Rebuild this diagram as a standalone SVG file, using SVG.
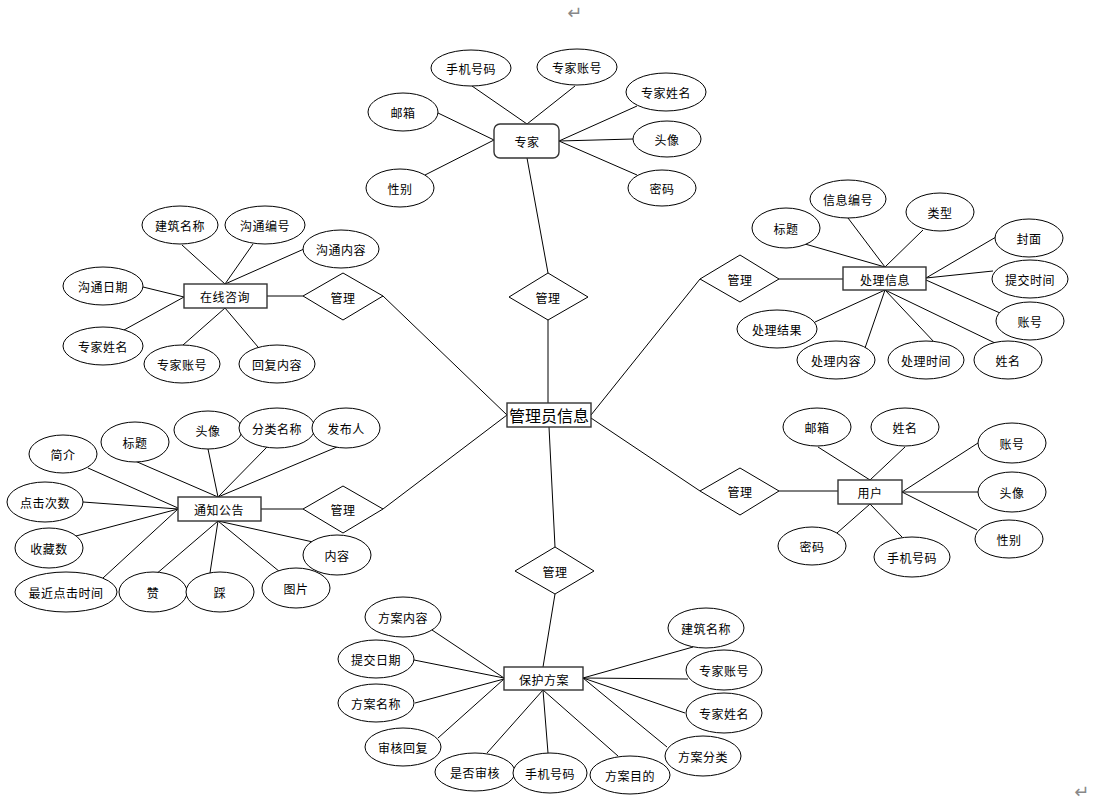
<svg xmlns="http://www.w3.org/2000/svg" width="1093" height="811" viewBox="0 0 1093 811">
<style>
text{font-family:"Noto Sans CJK SC","Liberation Sans",sans-serif;font-size:12px;fill:#000;text-anchor:middle;dominant-baseline:central;letter-spacing:0.5px}
ellipse,.ent,polygon{fill:#fff;stroke:#000;stroke-width:1}
.ent{stroke:#333;stroke-width:1.4}
.bg{fill:#fff;stroke:none}
#conn line{stroke:#000;stroke-width:1}
.big{font-size:16px;letter-spacing:0}
.mark{fill:#888;font-family:"DejaVu Sans",sans-serif;font-size:18px}
</style>
<rect class="bg" width="1093" height="811"/>
<g id="conn">
<line x1="548" y1="320" x2="548" y2="403"/>
<line x1="548" y1="273" x2="527" y2="158"/>
<line x1="383" y1="296" x2="507" y2="415"/>
<line x1="267" y1="296" x2="303" y2="296"/>
<line x1="383" y1="509" x2="507" y2="415"/>
<line x1="261" y1="509" x2="303" y2="509"/>
<line x1="700" y1="279" x2="591" y2="415"/>
<line x1="779" y1="279" x2="843" y2="279"/>
<line x1="700" y1="491" x2="591" y2="418"/>
<line x1="779" y1="491" x2="838" y2="491"/>
<line x1="549" y1="427" x2="555" y2="547"/>
<line x1="555" y1="594" x2="543" y2="667"/>
<line x1="472" y1="86" x2="527" y2="124"/>
<line x1="575" y1="86" x2="527" y2="124"/>
<line x1="637" y1="106" x2="559" y2="141"/>
<line x1="633" y1="139" x2="559" y2="141"/>
<line x1="637" y1="175" x2="559" y2="141"/>
<line x1="438" y1="113" x2="494" y2="140"/>
<line x1="425" y1="175" x2="494" y2="140"/>
<line x1="182" y1="245" x2="225" y2="284"/>
<line x1="253" y1="244" x2="225" y2="284"/>
<line x1="304" y1="249" x2="225" y2="284"/>
<line x1="143" y1="287" x2="184" y2="297"/>
<line x1="124" y1="330" x2="184" y2="297"/>
<line x1="183" y1="345" x2="225" y2="308"/>
<line x1="258" y1="347" x2="225" y2="308"/>
<line x1="88" y1="468" x2="178" y2="508"/>
<line x1="135" y1="461" x2="218" y2="497"/>
<line x1="208" y1="449" x2="218" y2="497"/>
<line x1="267" y1="447" x2="218" y2="497"/>
<line x1="337" y1="447" x2="218" y2="497"/>
<line x1="83" y1="502" x2="178" y2="509"/>
<line x1="76" y1="536" x2="178" y2="509"/>
<line x1="103" y1="578" x2="178" y2="509"/>
<line x1="155" y1="575" x2="218" y2="521"/>
<line x1="210" y1="573" x2="218" y2="521"/>
<line x1="280" y1="572" x2="218" y2="521"/>
<line x1="313" y1="542" x2="218" y2="521"/>
<line x1="805" y1="244" x2="885" y2="267"/>
<line x1="848" y1="218" x2="885" y2="267"/>
<line x1="923" y1="230" x2="885" y2="267"/>
<line x1="996" y1="237" x2="926" y2="278"/>
<line x1="993" y1="271" x2="926" y2="278"/>
<line x1="1000" y1="313" x2="926" y2="280"/>
<line x1="995" y1="343" x2="885" y2="290"/>
<line x1="815" y1="322" x2="885" y2="290"/>
<line x1="865" y1="348" x2="885" y2="290"/>
<line x1="935" y1="343" x2="885" y2="290"/>
<line x1="818" y1="447" x2="870" y2="480"/>
<line x1="905" y1="447" x2="870" y2="480"/>
<line x1="978" y1="443" x2="902" y2="492"/>
<line x1="978" y1="492" x2="902" y2="492"/>
<line x1="977" y1="530" x2="902" y2="492"/>
<line x1="837" y1="533" x2="870" y2="504"/>
<line x1="902" y1="537" x2="870" y2="504"/>
<line x1="432" y1="630" x2="504" y2="678"/>
<line x1="414" y1="660" x2="504" y2="678"/>
<line x1="415" y1="703" x2="504" y2="679"/>
<line x1="438" y1="738" x2="504" y2="679"/>
<line x1="487" y1="753" x2="543" y2="690"/>
<line x1="548" y1="753" x2="543" y2="690"/>
<line x1="618" y1="756" x2="543" y2="690"/>
<line x1="667" y1="747" x2="583" y2="678"/>
<line x1="685" y1="713" x2="583" y2="678"/>
<line x1="688" y1="679" x2="583" y2="678"/>
<line x1="693" y1="647" x2="583" y2="678"/>
</g>

<g id="admin"><rect class="ent" x="507" y="403" width="84" height="24"/><text class="big" x="549" y="415">管理员信息</text></g>

<g id="rel-top"><polygon points="548,273 588,297 548,320 509,297"/><text x="548" y="297">管理</text></g>
<g id="rel-left1"><polygon points="343,273 383,296 343,320 303,296"/><text x="343" y="297">管理</text></g>
<g id="rel-left2"><polygon points="343,486 383,509 343,533 303,509"/><text x="343" y="509">管理</text></g>
<g id="rel-right1"><polygon points="740,255 779,279 740,302 700,279"/><text x="740" y="279">管理</text></g>
<g id="rel-right2"><polygon points="740,468 779,491 740,515 700,491"/><text x="740" y="491">管理</text></g>
<g id="rel-bottom"><polygon points="555,547 594,571 555,594 515,571"/><text x="555" y="571">管理</text></g>

<g id="expert"><rect class="ent" x="494" y="124" width="65" height="34" rx="6"/><text x="527" y="141">专家</text></g>
<g id="e-phone"><ellipse cx="471" cy="68" rx="40" ry="18"/><text x="471" y="68">手机号码</text></g>
<g id="e-acc"><ellipse cx="577" cy="67" rx="40" ry="18"/><text x="577" y="67">专家账号</text></g>
<g id="e-name"><ellipse cx="666" cy="92" rx="40" ry="19"/><text x="666" y="92">专家姓名</text></g>
<g id="e-avatar"><ellipse cx="667" cy="139" rx="34" ry="18"/><text x="667" y="139">头像</text></g>
<g id="e-pwd"><ellipse cx="662" cy="188" rx="34" ry="18"/><text x="662" y="188">密码</text></g>
<g id="e-mail"><ellipse cx="403" cy="112" rx="35" ry="19"/><text x="403" y="112">邮箱</text></g>
<g id="e-sex"><ellipse cx="400" cy="188" rx="34" ry="19"/><text x="400" y="188">性别</text></g>

<g id="consult"><rect class="ent" x="184" y="284" width="83" height="24"/><text x="225" y="296">在线咨询</text></g>
<g id="c-bname"><ellipse cx="180" cy="225" rx="38" ry="19"/><text x="180" y="225">建筑名称</text></g>
<g id="c-no"><ellipse cx="265" cy="225" rx="40" ry="19"/><text x="265" y="225">沟通编号</text></g>
<g id="c-content"><ellipse cx="341" cy="249" rx="38" ry="19"/><text x="341" y="249">沟通内容</text></g>
<g id="c-date"><ellipse cx="103" cy="286" rx="40" ry="19"/><text x="103" y="286">沟通日期</text></g>
<g id="c-ename"><ellipse cx="103" cy="346" rx="40" ry="19"/><text x="103" y="346">专家姓名</text></g>
<g id="c-eacc"><ellipse cx="182" cy="364" rx="38" ry="19"/><text x="182" y="364">专家账号</text></g>
<g id="c-reply"><ellipse cx="277" cy="364" rx="38" ry="19"/><text x="277" y="364">回复内容</text></g>

<g id="notice"><rect class="ent" x="178" y="497" width="83" height="24"/><text x="219" y="509">通知公告</text></g>
<g id="n-intro"><ellipse cx="63" cy="454" rx="34" ry="19"/><text x="63" y="454">简介</text></g>
<g id="n-title"><ellipse cx="135" cy="442" rx="34" ry="20"/><text x="135" y="442">标题</text></g>
<g id="n-avatar"><ellipse cx="208" cy="430" rx="34" ry="19"/><text x="208" y="430">头像</text></g>
<g id="n-cat"><ellipse cx="277" cy="428" rx="38" ry="20"/><text x="277" y="428">分类名称</text></g>
<g id="n-pub"><ellipse cx="346" cy="428" rx="34" ry="20"/><text x="346" y="428">发布人</text></g>
<g id="n-clicks"><ellipse cx="45" cy="502" rx="38" ry="20"/><text x="45" y="502">点击次数</text></g>
<g id="n-fav"><ellipse cx="49" cy="548" rx="34" ry="20"/><text x="49" y="548">收藏数</text></g>
<g id="n-last"><ellipse cx="66" cy="592" rx="51" ry="20"/><text x="66" y="592">最近点击时间</text></g>
<g id="n-like"><ellipse cx="153" cy="592" rx="34" ry="20"/><text x="153" y="592">赞</text></g>
<g id="n-dislike"><ellipse cx="220" cy="592" rx="34" ry="20"/><text x="220" y="592">踩</text></g>
<g id="n-img"><ellipse cx="296" cy="588" rx="34" ry="20"/><text x="296" y="588">图片</text></g>
<g id="n-content"><ellipse cx="337" cy="555" rx="34" ry="20"/><text x="337" y="555">内容</text></g>

<g id="handle"><rect class="ent" x="843" y="267" width="83" height="23"/><text x="885" y="279">处理信息</text></g>
<g id="h-title"><ellipse cx="786" cy="228" rx="34" ry="20"/><text x="786" y="228">标题</text></g>
<g id="h-no"><ellipse cx="848" cy="199" rx="38" ry="19"/><text x="848" y="199">信息编号</text></g>
<g id="h-type"><ellipse cx="940" cy="212" rx="34" ry="19"/><text x="940" y="212">类型</text></g>
<g id="h-cover"><ellipse cx="1029" cy="238" rx="34" ry="19"/><text x="1029" y="238">封面</text></g>
<g id="h-time"><ellipse cx="1030" cy="279" rx="38" ry="19"/><text x="1030" y="279">提交时间</text></g>
<g id="h-acc"><ellipse cx="1030" cy="321" rx="34" ry="19"/><text x="1030" y="321">账号</text></g>
<g id="h-name"><ellipse cx="1008" cy="360" rx="34" ry="19"/><text x="1008" y="360">姓名</text></g>
<g id="h-result"><ellipse cx="777" cy="329" rx="40" ry="19"/><text x="777" y="329">处理结果</text></g>
<g id="h-content"><ellipse cx="836" cy="360" rx="39" ry="19"/><text x="836" y="360">处理内容</text></g>
<g id="h-htime"><ellipse cx="926" cy="360" rx="38" ry="19"/><text x="926" y="360">处理时间</text></g>

<g id="user"><rect class="ent" x="838" y="480" width="64" height="24"/><text x="870" y="492">用户</text></g>
<g id="u-mail"><ellipse cx="817" cy="427" rx="34" ry="19"/><text x="817" y="427">邮箱</text></g>
<g id="u-name"><ellipse cx="905" cy="427" rx="34" ry="19"/><text x="905" y="427">姓名</text></g>
<g id="u-acc"><ellipse cx="1012" cy="443" rx="34" ry="20"/><text x="1012" y="443">账号</text></g>
<g id="u-avatar"><ellipse cx="1012" cy="492" rx="34" ry="20"/><text x="1012" y="492">头像</text></g>
<g id="u-sex"><ellipse cx="1009" cy="539" rx="34" ry="19"/><text x="1009" y="539">性别</text></g>
<g id="u-pwd"><ellipse cx="812" cy="546" rx="34" ry="19"/><text x="812" y="546">密码</text></g>
<g id="u-phone"><ellipse cx="912" cy="557" rx="38" ry="20"/><text x="912" y="557">手机号码</text></g>

<g id="plan"><rect class="ent" x="504" y="667" width="79" height="23"/><text x="544" y="679">保护方案</text></g>
<g id="p-content"><ellipse cx="403" cy="617" rx="38" ry="20"/><text x="403" y="617">方案内容</text></g>
<g id="p-date"><ellipse cx="376" cy="659" rx="38" ry="19"/><text x="376" y="659">提交日期</text></g>
<g id="p-name"><ellipse cx="376" cy="703" rx="38" ry="19"/><text x="376" y="703">方案名称</text></g>
<g id="p-reply"><ellipse cx="403" cy="747" rx="38" ry="19"/><text x="403" y="747">审核回复</text></g>
<g id="p-audit"><ellipse cx="475" cy="772" rx="40" ry="19"/><text x="475" y="772">是否审核</text></g>
<g id="p-phone"><ellipse cx="550" cy="773" rx="37" ry="20"/><text x="550" y="773">手机号码</text></g>
<g id="p-goal"><ellipse cx="630" cy="775" rx="40" ry="19"/><text x="630" y="775">方案目的</text></g>
<g id="p-cat"><ellipse cx="703" cy="756" rx="38" ry="20"/><text x="703" y="756">方案分类</text></g>
<g id="p-ename"><ellipse cx="724" cy="713" rx="38" ry="20"/><text x="724" y="713">专家姓名</text></g>
<g id="p-eacc"><ellipse cx="724" cy="670" rx="38" ry="20"/><text x="724" y="670">专家账号</text></g>
<g id="p-bname"><ellipse cx="706" cy="628" rx="38" ry="20"/><text x="706" y="628">建筑名称</text></g>

<text class="mark" x="575" y="12">↵</text>
<text class="mark" x="1082" y="791">↵</text>
</svg>
